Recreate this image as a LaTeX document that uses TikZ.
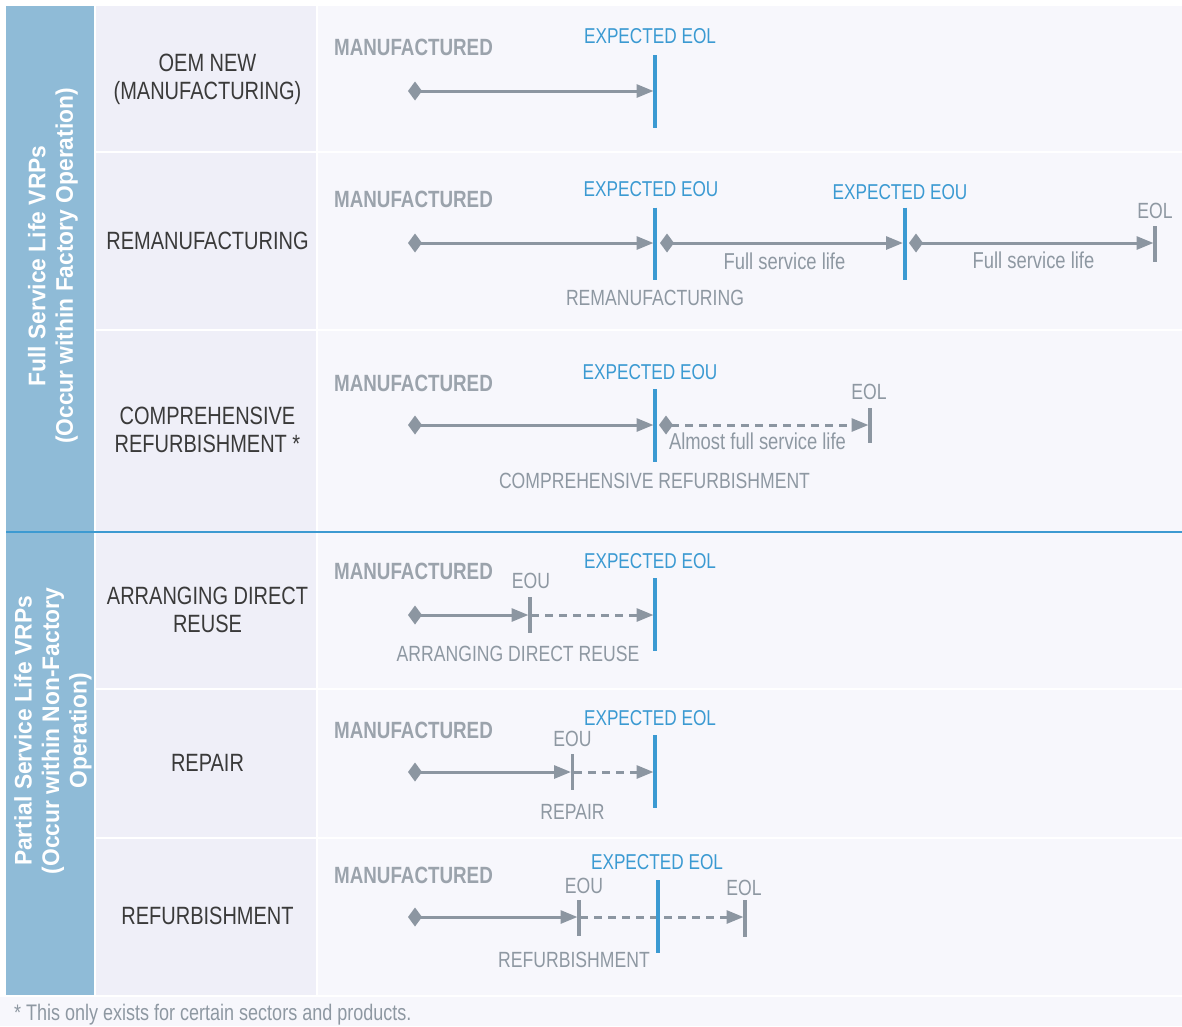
\documentclass[tikz,border=0pt]{standalone}
\usepackage{fontspec}
\setmainfont{Liberation Sans}[FakeStretch=0.8]
\newfontfamily\sidefam{Liberation Sans}[FakeStretch=0.95]
\usetikzlibrary{arrows.meta}
\definecolor{sidebg}{HTML}{8FBBD7}
\definecolor{labelbg}{HTML}{EFEFF8}
\definecolor{mainbg}{HTML}{F7F7FC}
\definecolor{sepblue}{HTML}{3D9AD1}
\definecolor{eolblue}{HTML}{3B9AD2}
\definecolor{arrgray}{HTML}{8C96A1}
\definecolor{manugray}{HTML}{9BA3AC}
\definecolor{labeltext}{HTML}{3A3A3A}
\definecolor{txtgray}{HTML}{8E98A2}
\begin{document}
\begin{tikzpicture}[x=1pt,y=-1pt,
  lbl/.style={font=\fontsize{25}{28}\selectfont, text=labeltext, align=center, inner sep=0pt},
  manu/.style={font=\fontsize{23.5}{26}\selectfont\bfseries, text=manugray, inner sep=0pt},
  bluet/.style={font=\fontsize{21.5}{24}\selectfont, text=eolblue, inner sep=0pt},
  grayt/.style={font=\fontsize{22}{24}\selectfont, text=txtgray, inner sep=0pt},
  lowt/.style={font=\fontsize{23}{25}\selectfont, text=txtgray, inner sep=0pt},
  sidet/.style={font=\sidefam\fontsize{24}{27.5}\selectfont\bfseries, text=white, align=center, inner sep=0pt, rotate=90},
  darrow/.style={draw=arrgray, line width=3pt, {Diamond[length=14pt,width=19pt]}-{Triangle[length=17pt,width=13pt]}},
  parrow/.style={draw=arrgray, line width=3pt, -{Triangle[length=17pt,width=13pt]}},
  dashline/.style={dash pattern=on 8pt off 6pt},
  bluebar/.style={draw=eolblue, line width=4pt},
  graybar/.style={draw=arrgray, line width=3.5pt}
]
\useasboundingbox (0,0) rectangle (1182,1026);
\fill[white] (0,0) rectangle (1182,1026);
\fill[mainbg] (0,997) rectangle (1182,1026);
% sidebar
\fill[sidebg] (6,6) rectangle (94,531);
\fill[sidebg] (6,532) rectangle (94,995);
% label column
\fill[labelbg] (96,6) rectangle (315.5,151);
\fill[labelbg] (96,153) rectangle (315.5,328.5);
\fill[labelbg] (96,330.5) rectangle (315.5,530.5);
\fill[labelbg] (96,532.5) rectangle (315.5,687.5);
\fill[labelbg] (96,689.5) rectangle (315.5,836.5);
\fill[labelbg] (96,838.5) rectangle (315.5,995);
% main column
\fill[mainbg] (317.5,6) rectangle (1182,151);
\fill[mainbg] (317.5,153) rectangle (1182,328.5);
\fill[mainbg] (317.5,330.5) rectangle (1182,530.5);
\fill[mainbg] (317.5,532.5) rectangle (1182,687.5);
\fill[mainbg] (317.5,689.5) rectangle (1182,836.5);
\fill[mainbg] (317.5,838.5) rectangle (1182,995);
% group separator
\coordinate (sepL) at (6,531.5);
\coordinate (sepR) at (1182,531.5);
\draw[sepblue, line width=2pt] (sepL) -- (sepR);

% sidebar texts
\node[sidet] (side1) at (53,266) {Full Service Life VRPs\\(Occur within Factory Operation)};
\node[sidet] (side2) at (53,731) {Partial Service Life VRPs\\(Occur within Non-Factory\\Operation)};

% row labels
\node[lbl] (l1) at (207.5,79) {OEM NEW\\(MANUFACTURING)};
\node[lbl] (l2) at (207.5,241) {REMANUFACTURING};
\node[lbl] (l3) at (207.5,430) {COMPREHENSIVE\\REFURBISHMENT *};
\node[lbl] (l4) at (207.5,610) {ARRANGING DIRECT\\REUSE};
\node[lbl] (l5) at (207.5,763) {REPAIR};
\node[lbl] (l6) at (207.5,916) {REFURBISHMENT};

% ---------- Row 1
\node[manu] (m1) at (413.5,47.5) {MANUFACTURED};
\node[bluet] (x1) at (650,36) {EXPECTED EOL};
\coordinate (r1s) at (408,91);
\coordinate (r1e) at (653.5,91);
\coordinate (b1t) at (655,55);
\coordinate (b1b) at (655,128);
\draw[darrow] (r1s) -- (r1e);
\draw[bluebar] (b1t) -- (b1b);

% ---------- Row 2
\node[manu] (m2) at (413.5,199) {MANUFACTURED};
\node[bluet] (x2a) at (651,189) {EXPECTED EOU};
\node[bluet] (x2b) at (900,192) {EXPECTED EOU};
\node[grayt] (e2) at (1155,211) {EOL};
\node[lowt] (f2a) at (784.5,261) {Full service life};
\node[lowt] (f2b) at (1033.5,260) {Full service life};
\node[grayt] (p2) at (655,298) {REMANUFACTURING};
\coordinate (r2s) at (408,243);
\coordinate (r2e) at (653.5,243);
\coordinate (r2s2) at (660,243);
\coordinate (r2e2) at (903,243);
\coordinate (r2s3) at (909,243);
\coordinate (r2e3) at (1153.5,243);
\coordinate (b2t) at (655,207.5);
\coordinate (b2b) at (655,280);
\coordinate (b2t2) at (905,207.5);
\coordinate (b2b2) at (905,280);
\coordinate (g2t) at (1155,226);
\coordinate (g2b) at (1155,262);
\draw[darrow] (r2s) -- (r2e);
\draw[darrow] (r2s2) -- (r2e2);
\draw[darrow] (r2s3) -- (r2e3);
\draw[bluebar] (b2t) -- (b2b);
\draw[bluebar] (b2t2) -- (b2b2);
\draw[graybar] (g2t) -- (g2b);

% ---------- Row 3
\node[manu] (m3) at (413.5,383) {MANUFACTURED};
\node[bluet] (x3) at (650,372) {EXPECTED EOU};
\node[grayt] (e3) at (869,392) {EOL};
\node[lowt] (f3) at (757.5,441.5) {Almost full service life};
\node[grayt] (p3) at (654.5,481) {COMPREHENSIVE REFURBISHMENT};
\coordinate (r3s) at (408,425);
\coordinate (r3e) at (653.5,425);
\coordinate (r3s2) at (659,425);
\coordinate (r3e2) at (868.5,425);
\coordinate (b3t) at (655,389);
\coordinate (b3b) at (655,462);
\coordinate (g3t) at (870,408);
\coordinate (g3b) at (870,443);
\draw[darrow] (r3s) -- (r3e);
\draw[darrow, dashline] (r3s2) -- (r3e2);
\draw[bluebar] (b3t) -- (b3b);
\draw[graybar] (g3t) -- (g3b);

% ---------- Row 4
\node[manu] (m4) at (413.5,571) {MANUFACTURED};
\node[grayt] (u4) at (531,581) {EOU};
\node[bluet] (x4) at (650,561) {EXPECTED EOL};
\node[grayt] (p4) at (518,654) {ARRANGING DIRECT REUSE};
\coordinate (r4s) at (408,615);
\coordinate (r4e) at (528.5,615);
\coordinate (r4s2) at (531,615);
\coordinate (r4e2) at (653.5,615);
\coordinate (g4t) at (530,597);
\coordinate (g4b) at (530,633);
\coordinate (b4t) at (655,578);
\coordinate (b4b) at (655,651);
\draw[darrow] (r4s) -- (r4e);
\draw[parrow, dashline] (r4s2) -- (r4e2);
\draw[graybar] (g4t) -- (g4b);
\draw[bluebar] (b4t) -- (b4b);

% ---------- Row 5
\node[manu] (m5) at (413.5,730) {MANUFACTURED};
\node[grayt] (u5) at (572.5,739) {EOU};
\node[bluet] (x5) at (650,718) {EXPECTED EOL};
\node[grayt] (p5) at (572.5,811.5) {REPAIR};
\coordinate (r5s) at (408,772);
\coordinate (r5e) at (571,772);
\coordinate (r5s2) at (574,772);
\coordinate (r5e2) at (653.5,772);
\coordinate (g5t) at (572.5,754);
\coordinate (g5b) at (572.5,790);
\coordinate (b5t) at (655,735);
\coordinate (b5b) at (655,808);
\draw[darrow] (r5s) -- (r5e);
\draw[parrow, dashline] (r5s2) -- (r5e2);
\draw[graybar] (g5t) -- (g5b);
\draw[bluebar] (b5t) -- (b5b);

% ---------- Row 6
\node[manu] (m6) at (413.5,875) {MANUFACTURED};
\node[grayt] (u6) at (584,886) {EOU};
\node[bluet] (x6) at (657,862) {EXPECTED EOL};
\node[grayt] (e6) at (744,888) {EOL};
\node[grayt] (p6) at (574,959.5) {REFURBISHMENT};
\coordinate (r6s) at (408,917);
\coordinate (r6e) at (577.5,917);
\coordinate (r6s2) at (580,917);
\coordinate (r6e2) at (743.5,917);
\coordinate (g6t) at (579,900);
\coordinate (g6b) at (579,936);
\coordinate (b6t) at (658,880);
\coordinate (b6b) at (658,953);
\coordinate (g6t2) at (745,900);
\coordinate (g6b2) at (745,937);
\draw[darrow] (r6s) -- (r6e);
\draw[parrow, dashline] (r6s2) -- (r6e2);
\draw[graybar] (g6t) -- (g6b);
\draw[bluebar] (b6t) -- (b6b);
\draw[graybar] (g6t2) -- (g6b2);

% footnote
\node[font=\fontsize{22.5}{25}\selectfont, text=txtgray, inner sep=0pt, anchor=west] (fn) at (14,1014.5) {* This only exists for certain sectors and products.};
\end{tikzpicture}
\end{document}
